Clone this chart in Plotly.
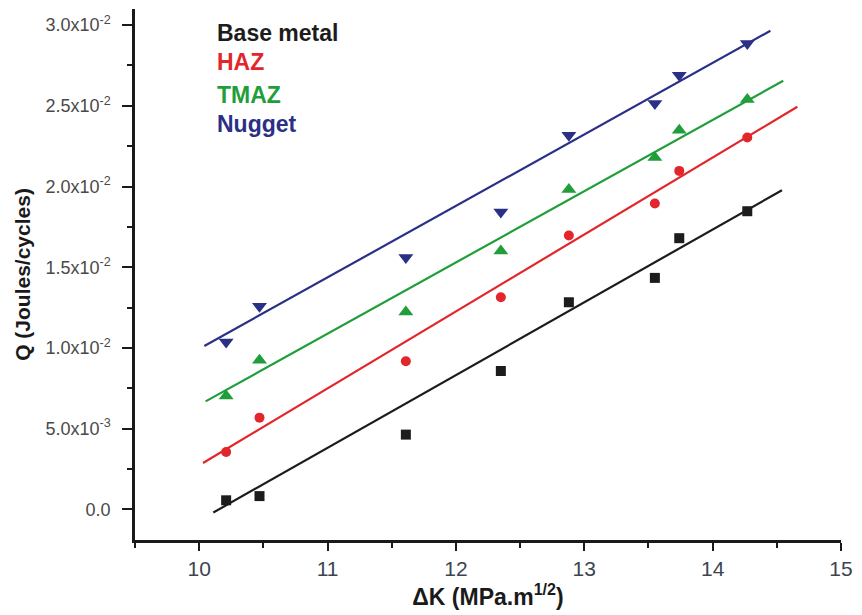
import plotly.graph_objects as go

# ---- data ----
delta_k = [10.21, 10.47, 11.61, 12.35, 12.88, 13.55, 13.74, 14.27]

q_base = [0.00056, 0.00082, 0.00463, 0.00857, 0.01283, 0.01434, 0.01680, 0.01847]
q_haz = [0.00355, 0.00568, 0.00917, 0.01314, 0.01697, 0.01895, 0.02097, 0.02304]
q_tmaz = [0.00702, 0.00924, 0.01223, 0.01601, 0.01982, 0.02180, 0.02349, 0.02540]
q_nugget = [0.01037, 0.01258, 0.01560, 0.01843, 0.02318, 0.02515, 0.02690, 0.02887]

# linear fit lines (end points)
fit_x_base = [10.11, 14.54]
fit_q_base = [-0.0002, 0.01977]
fit_x_haz = [10.03, 14.66]
fit_q_haz = [0.00287, 0.02494]
fit_x_tmaz = [10.05, 14.55]
fit_q_tmaz = [0.00669, 0.02655]
fit_x_nugget = [10.04, 14.45]
fit_q_nugget = [0.01012, 0.02965]

series_names = ["Base metal", "HAZ", "TMAZ", "Nugget"]
series_colors = ["#1c1c1c", "#e2262b", "#1f9e3a", "#2b3087"]
series_symbols = ["square", "circle", "triangle-up", "triangle-down"]
series_sizes = [10, 10, 13, 13]

y_tickvals = [0.0, 0.005, 0.010, 0.015, 0.020, 0.025, 0.030]
y_ticktext = ["0.0", "5.0x10<sup>-3</sup>", "1.0x10<sup>-2</sup>", "1.5x10<sup>-2</sup>",
              "2.0x10<sup>-2</sup>", "2.5x10<sup>-2</sup>", "3.0x10<sup>-2</sup>"]
x_tickvals = [10, 11, 12, 13, 14, 15]

series_q = [q_base, q_haz, q_tmaz, q_nugget]
fits = [(fit_x_base, fit_q_base), (fit_x_haz, fit_q_haz),
        (fit_x_tmaz, fit_q_tmaz), (fit_x_nugget, fit_q_nugget)]

fig = go.Figure()
for name, color, sym, size, q, (fx, fq) in zip(series_names, series_colors, series_symbols,
                                               series_sizes, series_q, fits):
    fig.add_trace(go.Scatter(x=fx, y=fq, mode="lines", line=dict(color=color, width=2.2),
                             showlegend=False, hoverinfo="skip"))
    fig.add_trace(go.Scatter(x=delta_k, y=q, mode="markers", name=name,
                             marker=dict(symbol=sym, size=size, color=color, line=dict(width=0)),
                             showlegend=False))

FONT = "Liberation Sans"

# text-only legend
legend_y = [0.955, 0.900, 0.838, 0.783]
for name, color, ly in zip(series_names, series_colors, legend_y):
    fig.add_annotation(text="<b>%s</b>" % name, x=0.114, y=ly, xref="paper", yref="paper",
                       xanchor="left", yanchor="middle", showarrow=False,
                       font=dict(family=FONT, size=23, color=color))

fig.update_layout(
    width=862, height=615,
    margin=dict(l=135, r=14, t=9, b=75),
    paper_bgcolor="white", plot_bgcolor="white",
    font=dict(family=FONT),
    xaxis=dict(
        range=[9.5, 15.0], tickvals=x_tickvals, ticks="outside", ticklen=8, tickwidth=2,
        tickcolor="#1a1a1a", showline=True, linecolor="#1a1a1a", linewidth=2.5,
        showgrid=False, zeroline=False, ticklabeloverflow="allow",
        tickfont=dict(family=FONT, size=21, color="#3c4450"),
        minor=dict(ticks="outside", ticklen=5, tickwidth=2, tickcolor="#1a1a1a", dtick=0.5,
                   tick0=10, showgrid=False),
        title=dict(text="<b>ΔK (MPa.m<sup>1/2</sup>)</b>", standoff=8,
                   font=dict(family=FONT, size=23, color="#1a1a1a")),
    ),
    yaxis=dict(
        range=[-0.0019, 0.0310], tickvals=y_tickvals, ticktext=y_ticktext, ticks="outside",
        ticklen=10, tickwidth=2, tickcolor="#1a1a1a", showline=True, linecolor="#1a1a1a",
        linewidth=2.5, showgrid=False, zeroline=False, ticklabelstandoff=8,
        tickfont=dict(family=FONT, size=18, color="#4a4a4a"),
        minor=dict(ticks="outside", ticklen=5, tickwidth=2, tickcolor="#1a1a1a", dtick=0.0025,
                   tick0=0, showgrid=False),
        title=dict(text="<b>Q (Joules/cycles)</b>", standoff=10,
                   font=dict(family=FONT, size=21, color="#1a1a1a")),
    ),
)

# remove the browser's default page margin so the figure fills the 862x615 window exactly
fig.write_html(
    "out.html",
    config={"displayModeBar": False, "responsive": False},
    post_script="document.documentElement.style.overflow='hidden';"
                "document.body.style.overflow='hidden';"
                "document.body.style.margin='0';",
)
